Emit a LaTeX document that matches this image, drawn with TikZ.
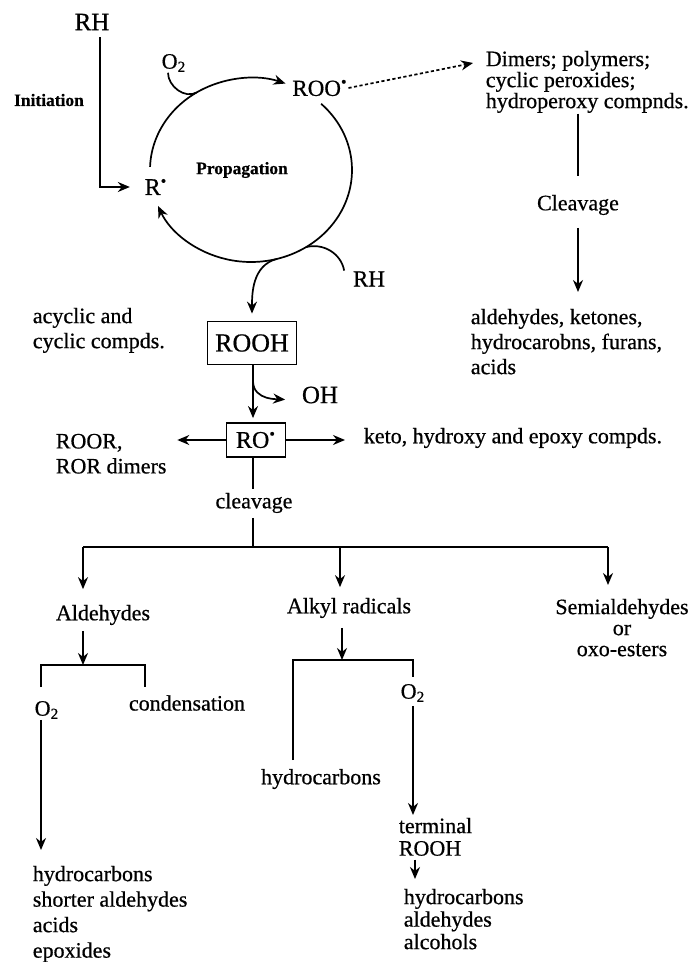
\documentclass[tikz,border=0pt]{standalone}
\usepackage{fontspec}
\setmainfont{Liberation Serif}[FakeBold=0.6]
\usetikzlibrary{calc,arrows.meta}

\newcommand{\radsup}{\textsuperscript{•}}
\newcommand{\oxy}{O\textsubscript{2}}

\begin{document}
\begin{tikzpicture}[
  x=0.5pt, y=-0.5pt,
  line width=0.85pt,
  lbl/.style={
    inner sep=0pt,
    font=\fontsize{11}{12.5}\selectfont
  },
  lst/.style={
    lbl,
    align=left,
    anchor=north west
  },
  tag/.style={
    inner sep=0pt,
    font=\fontsize{8.7}{10}\selectfont\bfseries
  },
  species/.style={
    draw,
    line width=0.9pt,
    inner sep=0pt
  },
  arr/.style={-{Stealth[length=6pt,width=5pt]}}
]
  \useasboundingbox (0,0) rectangle (694,962);

  % The propagation cycle (an ellipse, screen angles).
  \coordinate (C) at (251,170);
  \coordinate (jO)  at ($(C)+(237.5:101 and 92)$); % O2 joins
  \coordinate (jH)  at ($(C)+(57:101 and 92)$);    % RH joins
  \coordinate (jR)  at ($(C)+(75:101 and 92)$);    % ROOH leaves

  \node[lbl, font=\fontsize{12.5}{14}\selectfont] (rh1) at (92,22) {RH};
  \node[tag] (init) at (49,100) {Initiation};
  \node[tag] (prop) at (242,170) {Propagation};
  \node[lbl, font=\fontsize{12}{14}\selectfont] (rdot) at (156,187) {R\radsup};
  \node[lbl, font=\fontsize{11.5}{13}\selectfont] (roo) at (320,88) {ROO\radsup};
  \node[lbl] (o2a) at (174,63) {\oxy};
  \node[lbl, font=\fontsize{11.5}{13}\selectfont] (rh2) at (369,279) {RH};

  \draw[arr, shorten <=3pt, shorten >=7pt] ([xshift=4pt]rh1.south) |- (rdot.west);
  \draw[arr] (C) ++(182:101 and 92)
    arc[start angle=182, end angle=290, x radius=101, y radius=92];
  \draw[arr] (C) ++(-46:101 and 92)
    arc[start angle=-46, end angle=157, x radius=101, y radius=92];
  \draw ([xshift=-3pt]o2a.south) to[out=-90, in=210] (jO);
  \draw ([xshift=-4pt]rh2.north west) to[out=100, in=15] (jH);

  % Side products of the peroxyl radical.
  \node[lst, font=\fontsize{11}{10.5}\selectfont] (dim) at (485,50)
    {Dimers; polymers;\\cyclic peroxides;\\hydroperoxy compnds.};
  \coordinate (dimtip) at (473,63);
  \node[lbl] (clv1) at (578,205) {Cleavage};
  \node[lst] (ald1) at (470,308)
    {aldehydes, ketones,\\hydrocarobns, furans,\\acids};

  \draw[arr, dash pattern=on 1.6pt off 1.2pt] (roo.east) -- (dimtip);
  \draw[shorten >=9pt] (clv1 |- dim.south) -- (clv1.north);
  \draw[arr, shorten <=6pt, shorten >=8pt] (clv1.south) -- (clv1 |- ald1.north);

  % Hydroperoxide and alkoxyl radical.
  \node[lst] (acy) at (32,307) {acyclic and\\cyclic compds.};
  \node[species, minimum width=44.5pt, minimum height=21.5pt,
        font=\fontsize{13}{15}\selectfont] (rooh) at (252,343) {ROOH};
  \node[lbl, font=\fontsize{12.5}{14}\selectfont] (oh) at (320,395) {OH};
  \node[species, minimum width=29.5pt, minimum height=17pt,
        font=\fontsize{12}{14}\selectfont] (ro) at (256,440) {RO\radsup};
  \node[lst] (roor) at (55,433) {ROOR,\\ROR dimers};
  \node[lbl, anchor=west] (keto) at (363,438) {keto, hydroxy and epoxy compds.};
  \node[lbl] (clv2) at (254,503) {cleavage};

  \coordinate (split) at (253,547);
  \coordinate (jOH) at (253,381);

  \draw[arr, shorten >=3.5pt] (jR) to[out=194, in=90] (rooh.north);
  \draw[arr, shorten >=2pt] (rooh.south -| split) -- (ro.north -| split);
  \draw[arr, shorten >=8pt] (jOH) to[out=-90, in=175] ([yshift=-3pt]oh.west);
  \draw[arr, shorten >=5pt] (ro.west) -- (ro.west -| roor.east);
  \draw[arr, shorten >=9pt] (ro.east) -- (ro.east -| keto.west);
  \draw[shorten >=1.5pt] (ro.south -| split) -- (clv2.north -| split);
  \draw[shorten <=2pt] (clv2.south -| split) -- (split);

  % Products of cleavage.
  \coordinate (hL) at (83,547);
  \coordinate (hM) at (340,547);
  \coordinate (hR) at (608,547);
  \node[lbl] (ald2) at (103,615) {Aldehydes};
  \node[lbl] (alk) at (349,608) {Alkyl radicals};
  \node[lbl, align=center, anchor=north, font=\fontsize{11}{10.5}\selectfont]
    (semi) at (622,598) {Semialdehydes\\or\\oxo-esters};

  \draw (hL) -- (hR);
  \draw[arr, shorten >=7.5pt] (hL) -- (hL |- ald2.north);
  \draw[arr, shorten >=5pt] (hM) -- (hM |- alk.north);
  \draw[arr, shorten >=6.5pt] (hR) -- (hR |- semi.north);

  % Aldehyde branch.
  \coordinate (jA) at (83,665);
  \coordinate (legA1) at (41,687);
  \coordinate (legA2) at (145,687);
  \node[lbl] (o2b) at (47,710) {\oxy};
  \node[lbl] (cond) at (187,703) {condensation};
  \node[lst, font=\fontsize{11}{12.75}\selectfont] (lst1) at (32,865)
    {hydrocarbons\\shorter aldehydes\\acids\\epoxides};

  \draw[arr, shorten <=2.5pt] (ald2.south -| jA) -- (jA);
  \draw (legA1) |- (jA) -| (legA2);
  \draw[arr, shorten >=7.5pt] (o2b.south -| legA1) -- (lst1.north -| legA1);

  % Alkyl radical branch.
  \coordinate (jK) at (342,660);
  \coordinate (legK1) at (293,760);
  \coordinate (legK2) at (413,677);
  \node[lbl] (hyd) at (321,779) {hydrocarbons};
  \node[lbl] (o2c) at (413,693) {\oxy};
  \node[lst, font=\fontsize{11}{11.25}\selectfont] (term) at (398,817)
    {terminal\\ROOH};
  \node[lst, font=\fontsize{11}{11.25}\selectfont] (lst2) at (403,888)
    {hydrocarbons\\aldehydes\\alcohols};

  \draw[arr, shorten <=4.5pt] (alk.south -| jK) -- (jK);
  \draw (legK1) |- (jK) -| (legK2);
  \draw[arr, shorten <=1.5pt, shorten >=1pt] (o2c.south) -- (term.north -| o2c);
  \draw[arr, shorten <=1.5pt, shorten >=4.5pt] ([xshift=1pt]term.south -| o2c)
    -- ([xshift=1pt]lst2.north -| o2c);

\end{tikzpicture}
\end{document}
